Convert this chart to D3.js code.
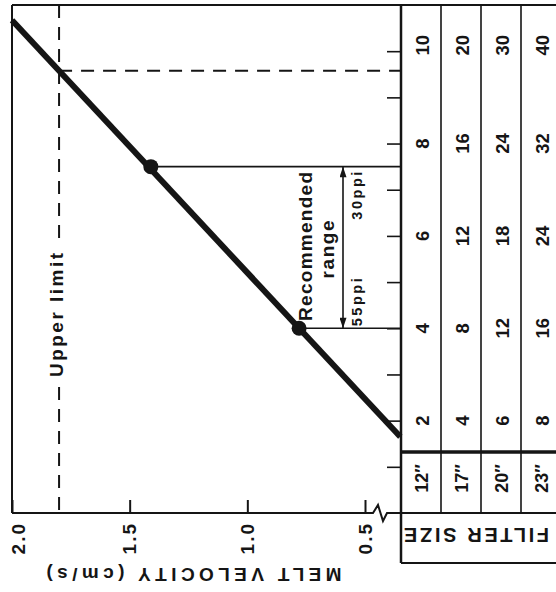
<!DOCTYPE html>
<html>
<head>
<meta charset="utf-8">
<script src="https://cdn.jsdelivr.net/npm/d3@7"></script>
<style>
  body { margin: 0; background: #fff; }
  svg { display: block; }
  text { font-family: "Liberation Sans", Arial, Helvetica, sans-serif; font-weight: bold; fill: #151515; }
</style>
</head>
<body>
<svg id="chart" width="556" height="592"></svg>
<script>
// Melt velocity scale (cm/s) along the bottom edge
const velocityTicks = [2.0, 1.5, 1.0, 0.5];
const upperLimitVelocity = 1.8;

// Flow scale on the table edge, in units of the 12″ filter column
const flowTicks = [1, 2, 3, 4, 5, 6, 7, 8, 9, 10];
const flowRows = [2, 4, 6, 8, 10];

// Filter sizes and their flow values for each row
const filterSizes = ["12″", "17″", "20″", "23″"];
const col12 = [2, 4, 6, 8, 10];
const col17 = [4, 8, 12, 16, 20];
const col20 = [6, 12, 18, 24, 30];
const col23 = [8, 16, 24, 32, 40];

// Operating line: melt velocity against flow
const lineVelocity = [2.0, 0.35];
const lineFlow = [10.67, 1.65];

// Recommended range end points (pore size)
const recVelocity = [1.41, 0.78];
const recFlow = [7.5, 4.0];
const recLabels = ["30ppi", "55ppi"];

const ink = "#151515";
const svg = d3.select("#chart");

// Scales
const x = d3.scaleLinear().domain([2.0, 0.5]).range([12, 365]);
const y = d3.scaleLinear().domain([0, 11]).range([513, 5]);
const tableLeft = 401, tableRight = 561, sizeRowTop = 452, sizeBoxBottom = 563;
const col = d3.scaleBand().domain(filterSizes).range([tableLeft, tableRight]);
const columns = [col12, col17, col20, col23];

const flowAt = v => lineFlow[0] + (v - lineVelocity[0]) * (lineFlow[1] - lineFlow[0]) / (lineVelocity[1] - lineVelocity[0]);

// Frame: left border and top border
svg.append("line").attr("x1", x(2.0)).attr("x2", x(2.0)).attr("y1", y(11)).attr("y2", y(0))
  .attr("stroke", ink).attr("stroke-width", 2);
svg.append("line").attr("x1", x(2.0)).attr("x2", tableRight).attr("y1", y(11)).attr("y2", y(11))
  .attr("stroke", ink).attr("stroke-width", 2);

// Velocity axis with a break before the table
const axisY = y(0);
svg.append("path")
  .attr("d", `M${x(2.0)},${axisY} H${x(0.5) + 8} l5,-8 l5,16 l4,-8 H${tableRight}`)
  .attr("fill", "none").attr("stroke", ink).attr("stroke-width", 2).attr("stroke-linejoin", "miter");

const xAxis = d3.axisBottom(x).tickValues(velocityTicks).tickSizeInner(-13).tickSizeOuter(0).tickFormat("");
const gx = svg.append("g").attr("transform", `translate(0,${axisY})`).call(xAxis);
gx.select(".domain").remove();
gx.selectAll(".tick line").attr("stroke", ink).attr("stroke-width", 2);

svg.append("g").selectAll("text").data(velocityTicks).join("text")
  .attr("transform", d => `translate(${Math.max(x(d), 18)},${axisY + 9}) rotate(-90)`)
  .attr("text-anchor", "end").attr("dominant-baseline", "central")
  .style("font-size", "19px").style("letter-spacing", "2px")
  .text(d => d3.format(".1f")(d));

svg.append("text")
  .attr("transform", `translate(194,568) rotate(180)`)
  .attr("text-anchor", "middle")
  .style("font-size", "19px")
  .attr("textLength", 295).attr("lengthAdjust", "spacing")
  .text("MELT VELOCITY (cm/s)");

// Table grid
svg.append("line").attr("x1", tableLeft).attr("x2", tableLeft).attr("y1", y(11)).attr("y2", sizeBoxBottom)
  .attr("stroke", ink).attr("stroke-width", 2.5);
svg.append("g").selectAll("line").data(filterSizes.slice(1)).join("line")
  .attr("x1", d => col(d)).attr("x2", d => col(d)).attr("y1", y(11)).attr("y2", axisY)
  .attr("stroke", ink).attr("stroke-width", 1.6);
svg.append("line").attr("x1", tableLeft).attr("x2", tableRight).attr("y1", sizeRowTop).attr("y2", sizeRowTop)
  .attr("stroke", ink).attr("stroke-width", 3.5);
svg.append("line").attr("x1", tableLeft).attr("x2", tableRight).attr("y1", sizeBoxBottom).attr("y2", sizeBoxBottom)
  .attr("stroke", ink).attr("stroke-width", 2);

// Flow ticks on the table edge
const yAxis = d3.axisLeft(y).tickValues(flowTicks).tickSizeInner(14).tickSizeOuter(0).tickFormat("");
const gy = svg.append("g").attr("transform", `translate(${tableLeft},0)`).call(yAxis);
gy.select(".domain").remove();
gy.selectAll(".tick line").attr("stroke", ink).attr("stroke-width", 1.6);

// Table values
columns.forEach((vals, i) => {
  svg.append("g").selectAll("text").data(vals).join("text")
    .attr("transform", (d, j) => `translate(${col(filterSizes[i]) + col.bandwidth() / 2 + 1},${y(flowRows[j]) - (flowRows[j] === 10 ? 6 : 0)}) rotate(-90)`)
    .attr("text-anchor", "middle").attr("dominant-baseline", "central")
    .style("font-size", "18.5px")
    .text(d => d);
});

// Filter size row
svg.append("g").selectAll("text").data(filterSizes).join("text")
  .attr("transform", d => `translate(${col(d) + col.bandwidth() / 2 + 1},${(sizeRowTop + axisY) / 2 - 4}) rotate(-90)`)
  .attr("text-anchor", "middle").attr("dominant-baseline", "central")
  .style("font-size", "18px")
  .text(d => d);

svg.append("text")
  .attr("transform", `translate(${(tableLeft + 552) / 2},528) rotate(180)`)
  .attr("text-anchor", "middle")
  .style("font-size", "20px")
  .attr("textLength", 145).attr("lengthAdjust", "spacing")
  .text("FILTER SIZE");

// Upper limit (dashed), with a gap for its label
const ulX = x(upperLimitVelocity);
const ulLabelY = 315, ulHalf = 62;
const dash = "13,9";
svg.append("line").attr("x1", ulX).attr("x2", ulX).attr("y1", y(11)).attr("y2", ulLabelY - ulHalf - 6)
  .attr("stroke", ink).attr("stroke-width", 2).attr("stroke-dasharray", dash);
svg.append("line").attr("x1", ulX).attr("x2", ulX).attr("y1", ulLabelY + ulHalf + 10).attr("y2", axisY)
  .attr("stroke", ink).attr("stroke-width", 2).attr("stroke-dasharray", dash);
svg.append("line").attr("x1", ulX).attr("x2", tableLeft)
  .attr("y1", y(flowAt(upperLimitVelocity))).attr("y2", y(flowAt(upperLimitVelocity)))
  .attr("stroke", ink).attr("stroke-width", 2).attr("stroke-dasharray", dash);
svg.append("text")
  .attr("transform", `translate(${ulX + 4},${ulLabelY}) rotate(-90)`)
  .attr("text-anchor", "middle")
  .style("font-size", "19px")
  .attr("textLength", ulHalf * 2).attr("lengthAdjust", "spacing")
  .text("Upper limit");

// Recommended range: leaders from the line to the table edge
svg.append("g").selectAll("line").data(recFlow).join("line")
  .attr("x1", (d, i) => x(recVelocity[i])).attr("x2", tableLeft)
  .attr("y1", d => y(d)).attr("y2", d => y(d))
  .attr("stroke", ink).attr("stroke-width", 1.6);

// Double-headed arrow spanning the range
const defs = svg.append("defs");
["start", "end"].forEach(k => {
  defs.append("marker").attr("id", "arrow-" + k)
    .attr("viewBox", "0 0 12 8").attr("refX", 12).attr("refY", 4)
    .attr("markerWidth", 12).attr("markerHeight", 7).attr("markerUnits", "userSpaceOnUse")
    .attr("orient", k === "start" ? "auto-start-reverse" : "auto")
    .append("path").attr("d", "M0,0 L12,4 L0,8 Z").attr("fill", ink);
});
svg.append("line").attr("x1", 343).attr("x2", 343)
  .attr("y1", y(recFlow[1])).attr("y2", y(recFlow[0]))
  .attr("stroke", ink).attr("stroke-width", 1.6)
  .attr("marker-start", "url(#arrow-start)").attr("marker-end", "url(#arrow-end)");

const recMid = (y(recFlow[0]) + y(recFlow[1])) / 2;
svg.append("text").attr("transform", `translate(312,${recMid - 1}) rotate(-90)`)
  .attr("text-anchor", "middle").style("font-size", "19px")
  .attr("textLength", 149).attr("lengthAdjust", "spacing")
  .text("Recommended");
svg.append("text").attr("transform", `translate(334,${recMid + 2}) rotate(-90)`)
  .attr("text-anchor", "middle").style("font-size", "19px")
  .attr("textLength", 58).attr("lengthAdjust", "spacing")
  .text("range");
svg.append("g").selectAll("text").data(recLabels).join("text")
  .attr("transform", (d, i) => `translate(362,${i === 0 ? y(recFlow[0]) + 53 : y(recFlow[1]) - 2}) rotate(-90)`)
  .attr("text-anchor", "start").style("font-size", "14.5px")
  .attr("textLength", 48).attr("lengthAdjust", "spacing")
  .text(d => d);

// Operating line and marked points
svg.append("path")
  .datum(lineVelocity.map((v, i) => [v, lineFlow[i]]))
  .attr("d", d3.line().x(d => x(d[0])).y(d => y(d[1])))
  .attr("fill", "none").attr("stroke", ink).attr("stroke-width", 6);
svg.append("g").selectAll("circle").data(recFlow).join("circle")
  .attr("cx", (d, i) => x(recVelocity[i])).attr("cy", d => y(d)).attr("r", 7.5)
  .attr("fill", ink);
</script>
</body>
</html>
